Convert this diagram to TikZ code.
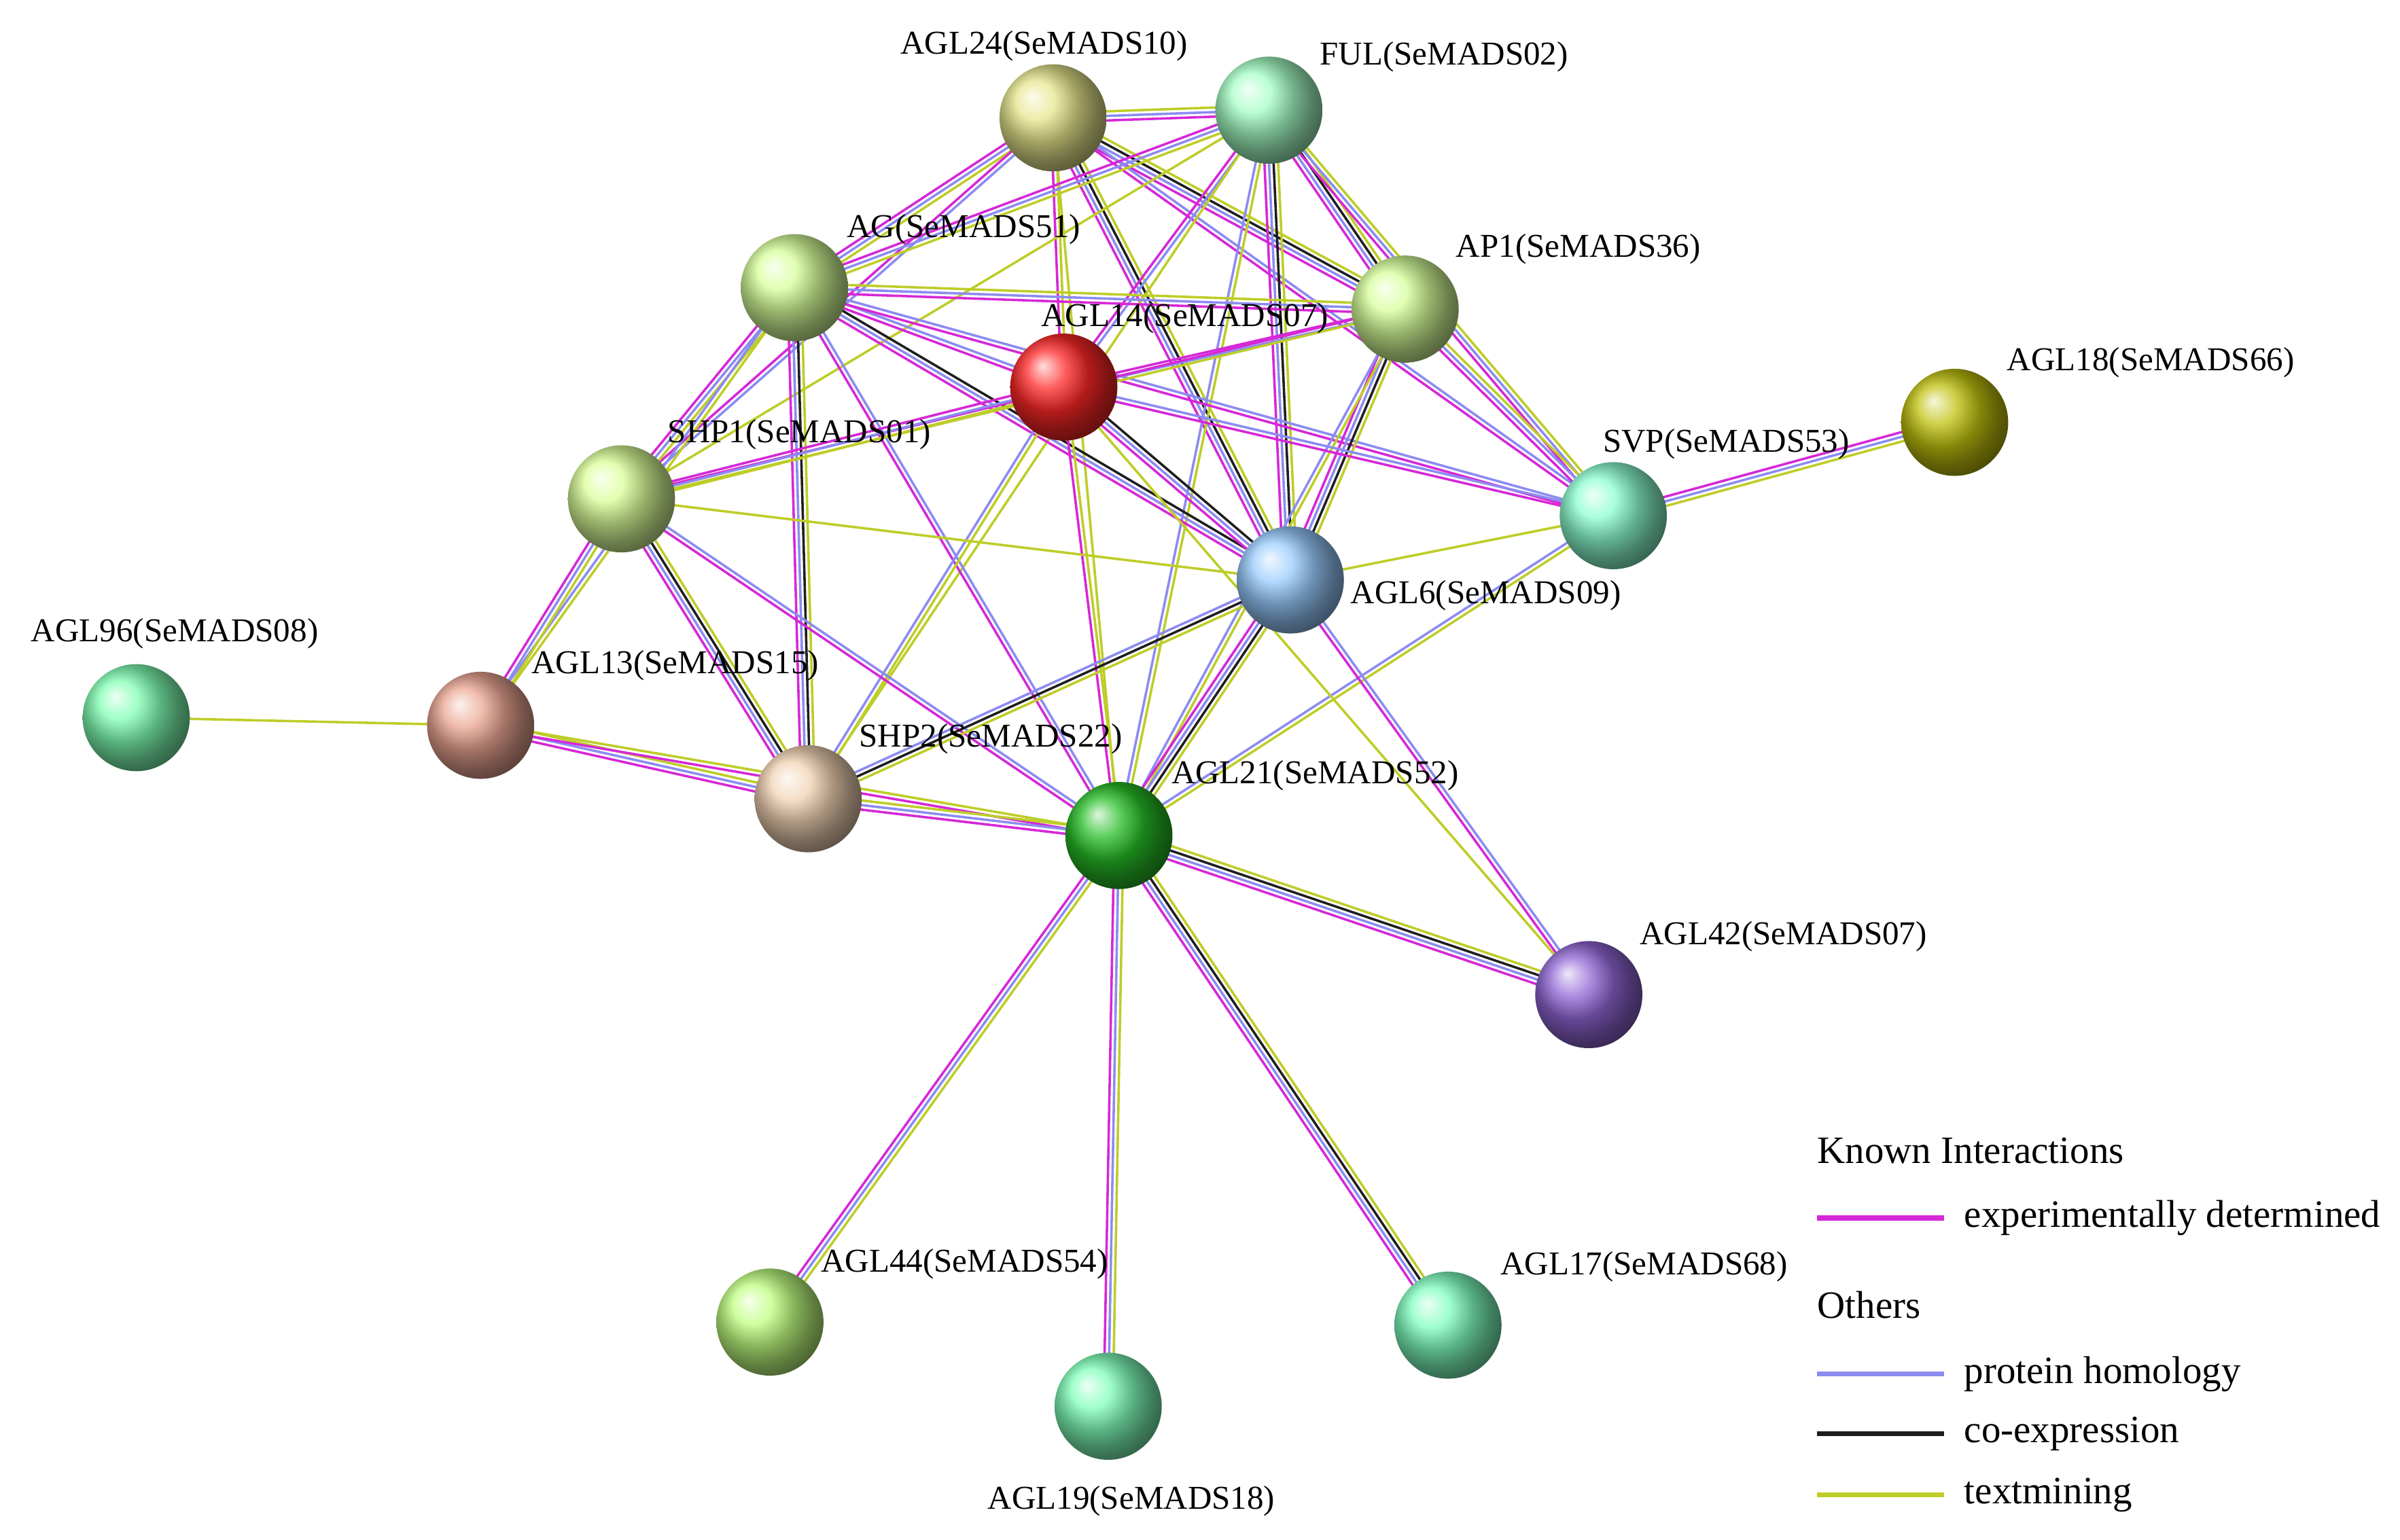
\documentclass[tikz,border=0pt]{standalone}
\usepackage{fontspec}
\setmainfont{Liberation Serif}
\usetikzlibrary{calc,backgrounds}
\definecolor{cE}{RGB}{214,40,214}
\definecolor{cH}{RGB}{140,140,240}
\definecolor{cC}{RGB}{30,30,30}
\definecolor{cT}{RGB}{190,205,40}
\tikzset{
  e/.style={cE}, h/.style={cH}, c/.style={cC}, t/.style={cT},
  prot/.style={circle,minimum size=70*0.02cm,inner sep=0pt,shading=ball,ball color=#1},
  lab/.style={anchor=west,font=\fontsize{12.4}{14}\selectfont,inner sep=0pt},
  leg/.style={anchor=west,font=\fontsize{14.4}{16}\selectfont,inner sep=0pt}
}
% link with n parallel lines
\newcommand\lnk[4]{%
  \foreach \s [count=\i] in {#4} {%
    \pgfmathsetmacro\o{(\i-(#3+1)/2)*1.7}
    \draw[\s,line width=0.9pt] ($(#1)!\o pt!90:(#2)$) -- ($(#2)!\o pt!-90:(#1)$);
  }}
\begin{document}
\begin{tikzpicture}[x=0.02cm,y=-0.02cm]
\useasboundingbox (0,0) rectangle (1568,1006);

\node[prot={yellow!45!olive!35!white}] (agl24) at (688,77) {};
\node[prot={cyan!35!green!35!white}] (ful) at (829,72) {};
\node[prot={green!40!yellow!40!white}] (ag) at (519,188) {};
\node[prot={green!40!yellow!40!white}] (ap1) at (918,202) {};
\node[prot={red!85!white}] (agl14) at (695,253) {};
\node[prot={olive!70!yellow!70!white}] (agl18) at (1277,276) {};
\node[prot={green!35!yellow!40!white}] (shp1) at (406,326) {};
\node[prot={cyan!60!green!45!white}] (svp) at (1054,337) {};
\node[prot={cyan!50!blue!40!white}] (agl6) at (843,379) {};
\node[prot={green!60!cyan!50!white}] (agl96) at (89,469) {};
\node[prot={red!40!brown!50!white}] (agl13) at (314,474) {};
\node[prot={orange!40!brown!35!white}] (shp2) at (528,522) {};
\node[prot={green!70!black!85!white}] (agl21) at (731,546) {};
\node[prot={violet!55!blue!60!white}] (agl42) at (1038,650) {};
\node[prot={green!50!yellow!50!white}] (agl44) at (503,864) {};
\node[prot={cyan!50!green!50!white}] (agl17) at (946,866) {};
\node[prot={cyan!45!green!50!white}] (agl19) at (724,919) {};

\begin{scope}[on background layer]
\lnk{agl24}{ful}{3}{e,h,t}
\lnk{agl24}{ag}{3}{e,h,t}
\lnk{agl24}{ap1}{4}{e,h,c,t}
\lnk{agl24}{agl14}{2}{e,t}
\lnk{agl24}{shp1}{2}{e,h}
\lnk{agl24}{agl6}{4}{e,h,c,t}
\lnk{agl24}{svp}{2}{e,h}
\lnk{agl24}{agl21}{1}{t}
\lnk{ful}{ag}{3}{e,h,t}
\lnk{ful}{ap1}{4}{e,h,c,t}
\lnk{ful}{agl14}{2}{e,h}
\lnk{ful}{shp1}{1}{t}
\lnk{ful}{agl6}{4}{e,h,c,t}
\lnk{ful}{svp}{3}{e,h,t}
\lnk{ful}{agl21}{2}{h,t}
\lnk{ful}{shp2}{1}{t}
\lnk{ag}{ap1}{3}{e,h,t}
\lnk{ag}{agl14}{2}{e,h}
\lnk{ag}{shp1}{3}{e,h,t}
\lnk{ag}{shp2}{4}{e,h,c,t}
\lnk{ag}{agl6}{3}{e,h,c}
\lnk{ag}{svp}{2}{e,h}
\lnk{ag}{agl21}{2}{e,h}
\lnk{ag}{agl13}{2}{h,t}
\lnk{ap1}{agl14}{2}{e,h}
\lnk{ap1}{shp1}{2}{e,t}
\lnk{ap1}{agl6}{4}{e,h,c,t}
\lnk{ap1}{svp}{3}{e,h,t}
\lnk{ap1}{agl21}{2}{h,t}
\lnk{agl14}{shp1}{3}{e,h,t}
\lnk{agl14}{agl6}{3}{e,h,c}
\lnk{agl14}{svp}{2}{e,h}
\lnk{agl14}{shp2}{2}{h,t}
\lnk{agl14}{agl21}{2}{e,t}
\lnk{agl18}{svp}{3}{e,h,t}
\lnk{shp1}{agl13}{3}{e,h,t}
\lnk{shp1}{shp2}{4}{e,h,c,t}
\lnk{shp1}{agl21}{2}{e,h}
\lnk{shp1}{agl6}{1}{t}
\lnk{svp}{agl6}{1}{t}
\lnk{svp}{agl21}{2}{h,t}
\lnk{agl6}{shp2}{3}{h,c,t}
\lnk{agl6}{agl21}{4}{e,h,c,t}
\lnk{agl6}{agl42}{2}{e,h}
\lnk{agl14}{agl42}{1}{t}
\lnk{agl96}{agl13}{1}{t}
\lnk{agl13}{shp2}{3}{e,h,t}
\lnk{agl13}{agl21}{2}{e,t}
\lnk{shp2}{agl21}{3}{e,h,t}
\lnk{agl21}{agl42}{4}{e,h,c,t}
\lnk{agl21}{agl44}{3}{e,h,t}
\lnk{agl21}{agl19}{3}{e,h,t}
\lnk{agl21}{agl17}{4}{e,h,c,t}
\end{scope}

\node[lab] (l24) at (588,30) {AGL24(SeMADS10)};
\node[lab] (lful) at (862,37) {FUL(SeMADS02)};
\node[lab] (lag) at (553,150) {AG(SeMADS51)};
\node[lab] (lap1) at (951,163) {AP1(SeMADS36)};
\node[lab] (l14) at (680,208) {AGL14(SeMADS07)};
\node[lab] (l18) at (1311,237) {AGL18(SeMADS66)};
\node[lab] (lshp1) at (436,284) {SHP1(SeMADS01)};
\node[lab] (lsvp) at (1047,290) {SVP(SeMADS53)};
\node[lab] (l6) at (882,389) {AGL6(SeMADS09)};
\node[lab] (l96) at (20,414) {AGL96(SeMADS08)};
\node[lab] (l13) at (347,435) {AGL13(SeMADS15)};
\node[lab] (lshp2) at (561,483) {SHP2(SeMADS22)};
\node[lab] (l21) at (765,507) {AGL21(SeMADS52)};
\node[lab] (l42) at (1071,612) {AGL42(SeMADS07)};
\node[lab] (l44) at (536,826) {AGL44(SeMADS54)};
\node[lab] (l17) at (980,828) {AGL17(SeMADS68)};
\node[lab] (l19) at (645,981) {AGL19(SeMADS18)};

% legend
\node[leg] (known) at (1187,752) {Known Interactions};
\node[leg] (others) at (1187,853) {Others};
\foreach \y/\s/\t in {796/e/experimentally determined,898/h/protein homology,937/c/co-expression,977/t/textmining}{
  \coordinate (a\y) at (1187,\y);
  \coordinate (b\y) at (1270,\y);
  \draw[\s,line width=1.8pt] (a\y) -- (b\y);
  \node[leg] at (1283,\y) {\t};
}
\end{tikzpicture}
\end{document}
